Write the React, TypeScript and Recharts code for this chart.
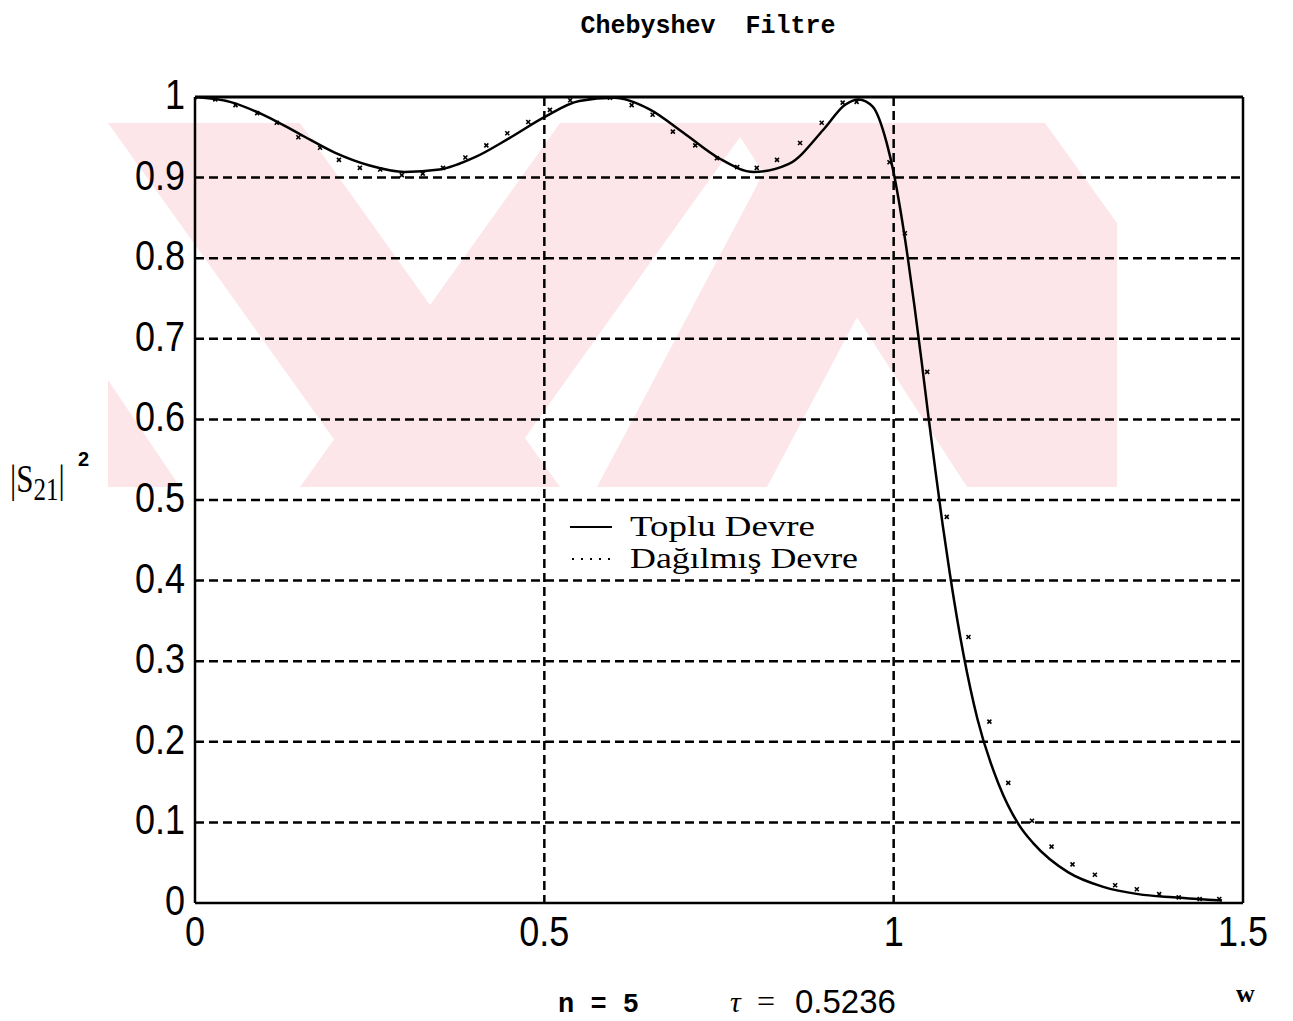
import React from "react";
import { ComposedChart, Line, Scatter, XAxis, YAxis, CartesianGrid, ReferenceLine } from "recharts";

// Toplu Devre (lumped circuit) |S21|^2 vs w
const lumpedW = [0, 0.05, 0.1, 0.15, 0.2, 0.25, 0.3, 0.35, 0.4, 0.45, 0.5, 0.55, 0.6, 0.65, 0.7, 0.75, 0.8, 0.85, 0.9, 0.93, 0.95, 0.97, 0.99, 1.0, 1.01, 1.02, 1.03, 1.04, 1.05, 1.06, 1.07, 1.08, 1.1, 1.12, 1.15, 1.18, 1.2, 1.25, 1.3, 1.35, 1.4, 1.45, 1.47];
const lumpedS = [1.0, 0.994, 0.977, 0.954, 0.931, 0.915, 0.907, 0.91, 0.925, 0.949, 0.975, 0.995, 0.999, 0.985, 0.955, 0.924, 0.907, 0.917, 0.96, 0.99, 0.997, 0.988, 0.943, 0.906, 0.858, 0.802, 0.739, 0.672, 0.602, 0.535, 0.47, 0.411, 0.308, 0.228, 0.148, 0.096, 0.074, 0.038, 0.02, 0.011, 0.007, 0.004, 0.003];

// Dağılmış Devre (distributed circuit) samples
const distW = [0, 0.029, 0.058, 0.089, 0.117, 0.148, 0.179, 0.206, 0.236, 0.265, 0.296, 0.326, 0.355, 0.387, 0.417, 0.447, 0.477, 0.508, 0.537, 0.566, 0.594, 0.625, 0.655, 0.684, 0.716, 0.747, 0.776, 0.804, 0.833, 0.866, 0.897, 0.927, 0.947, 0.994, 1.016, 1.048, 1.076, 1.107, 1.137, 1.164, 1.198, 1.226, 1.256, 1.288, 1.317, 1.348, 1.38, 1.408, 1.438, 1.466];
const distS = [1.0, 0.997, 0.99, 0.98, 0.968, 0.95, 0.937, 0.922, 0.912, 0.91, 0.903, 0.905, 0.912, 0.925, 0.94, 0.955, 0.969, 0.984, 0.996, 1.0, 0.999, 0.99, 0.978, 0.957, 0.94, 0.924, 0.913, 0.912, 0.922, 0.943, 0.968, 0.993, 0.994, 0.919, 0.831, 0.659, 0.479, 0.33, 0.225, 0.149, 0.102, 0.07, 0.048, 0.035, 0.022, 0.017, 0.011, 0.007, 0.005, 0.005];

const xTicks = [0, 0.5, 1, 1.5];
const yTicks = [0, 0.1, 0.2, 0.3, 0.4, 0.5, 0.6, 0.7, 0.8, 0.9, 1];
const seriesNames = ["Toplu Devre", "Dağılmış Devre"];
const titleText = "Chebyshev  Filtre";

const lumpedData = lumpedW.map((w, i) => ({ w, s: lumpedS[i] }));
const distData = distW.map((w, i) => ({ w, s: distS[i] }));

const fmt = (v: number) => (v === 0 ? "0" : v === 1 ? "1" : String(v));
const SANS = "Liberation Sans, Arial, sans-serif";
const SERIF = "Liberation Serif, Times New Roman, serif";
const MONO = "Liberation Mono, Courier New, monospace";

const XTick = (props: any) => {
  const { x, y, payload } = props;
  return (
    <text transform={`translate(${x},${y + 35}) scale(1,1.16)`} x={0} y={0} textAnchor="middle" fontFamily={SANS} fontSize={36} fill="#000">
      {fmt(payload.value)}
    </text>
  );
};
const YTick = (props: any) => {
  const { x, y, payload } = props;
  return (
    <text transform={`translate(${x - 2},${y + 12}) scale(1,1.16)`} x={0} y={0} textAnchor="end" fontFamily={SANS} fontSize={36} fill="#000">
      {fmt(payload.value)}
    </text>
  );
};

const CrossDot = (props: any) => {
  const { cx, cy } = props;
  if (cx == null || cy == null) return null;
  return (
    <g>
      <line x1={cx - 2} y1={cy - 2} x2={cx + 2} y2={cy + 2} stroke="#000" strokeWidth={1.6} />
      <line x1={cx - 2} y1={cy + 2} x2={cx + 2} y2={cy - 2} stroke="#000" strokeWidth={1.6} />
    </g>
  );
};

const pink = "#fde6ea";

const Watermark = () => (
  <svg width={1293} height={1021} style={{ position: "absolute", left: 0, top: 0 }}>
    <polygon points="108,123 300,123 560,487 368,487" fill={pink} />
    <polygon points="560,123 750,123 490,487 300,487" fill={pink} />
    <polygon points="790,123 960,123 767,487 597,487" fill={pink} />
    <polygon points="731,123 1045,123 1117,223 1117,487 967,487" fill={pink} />
    <polygon points="108,380 180,487 108,487" fill={pink} />
  </svg>
);

export default function App() {
  return (
    <div style={{ position: "absolute", left: 0, top: 0, width: 1293, height: 1021, background: "#fff" }}>
      <Watermark />
      <div style={{ position: "absolute", left: 0, top: 0 }}>
        <ComposedChart width={1293} height={1021} margin={{ top: 97, right: 50, bottom: 68, left: 135 }}>
          <CartesianGrid xAxisId="b" yAxisId="l" stroke="#000" strokeWidth={2.5} strokeDasharray="9 5" verticalValues={[0.5, 1]} horizontalValues={[0.1, 0.2, 0.3, 0.4, 0.5, 0.6, 0.7, 0.8, 0.9]} />
          <XAxis xAxisId="b" type="number" dataKey="w" domain={[0, 1.5]} ticks={xTicks} tick={<XTick />} tickLine={false} axisLine={{ stroke: "#000", strokeWidth: 2.5 }} height={50} allowDataOverflow />
          <YAxis yAxisId="l" type="number" domain={[0, 1]} ticks={yTicks} tick={<YTick />} tickLine={false} axisLine={{ stroke: "#000", strokeWidth: 2.5 }} width={60} allowDataOverflow />
          <ReferenceLine xAxisId="b" yAxisId="l" y={1} stroke="#000" strokeWidth={3} />
          <ReferenceLine xAxisId="b" yAxisId="l" x={1.5} stroke="#000" strokeWidth={2.5} />
          <Line xAxisId="b" yAxisId="l" data={lumpedData} dataKey="s" type="monotone" stroke="#000" strokeWidth={2.5} dot={false} isAnimationActive={false} name={seriesNames[0]} />
          <Scatter xAxisId="b" yAxisId="l" data={distData} dataKey="s" shape={<CrossDot />} isAnimationActive={false} name={seriesNames[1]} />
        </ComposedChart>
      </div>
      <div style={{ position: "absolute", left: 0, top: 0, pointerEvents: "none" }}>
        <svg width={1293} height={1021}>
          <text x={708} y={33} textAnchor="middle" fontFamily={MONO} fontWeight="bold" fontSize={25} fill="#000" xmlSpace="preserve">{titleText}</text>
          <g transform="translate(10,492) scale(1,1.3)">
            <text x={0} y={0} fontFamily={SERIF} fontSize={31} fill="#000">
              |S<tspan fontSize={25} dy={6}>21</tspan><tspan dy={-6}>|</tspan>
            </text>
          </g>
          <text x={78} y={466} fontFamily={SANS} fontWeight="bold" fontSize={20} fill="#000">2</text>
          <text x={1236} y={1002} fontFamily={SERIF} fontWeight="bold" fontSize={26} fill="#000">w</text>
          <text x={558} y={1012} fontFamily={MONO} fontWeight="bold" fontSize={27} fill="#000">n = 5</text>
          <text x={730} y={1012} fontFamily={SERIF} fontStyle="italic" fontSize={30} fill="#000">τ</text>
          <text x={757} y={1012} fontFamily={SERIF} fontSize={32} fill="#000">=</text>
          <text x={795} y={1013} fontFamily={SANS} fontSize={33} fill="#000">0.5236</text>
          {/* legend */}
          <line x1={570} y1={527} x2={612} y2={527} stroke="#000" strokeWidth={2} />
          <text x={630} y={536} fontFamily={SERIF} fontSize={30} fill="#000" textLength={185} lengthAdjust="spacingAndGlyphs">{seriesNames[0]}</text>
          <line x1={572} y1={559} x2={612} y2={559} stroke="#000" strokeWidth={2} strokeDasharray="2 7" />
          <text x={630} y={568} fontFamily={SERIF} fontSize={30} fill="#000" textLength={228} lengthAdjust="spacingAndGlyphs">{seriesNames[1]}</text>
        </svg>
      </div>
    </div>
  );
}
